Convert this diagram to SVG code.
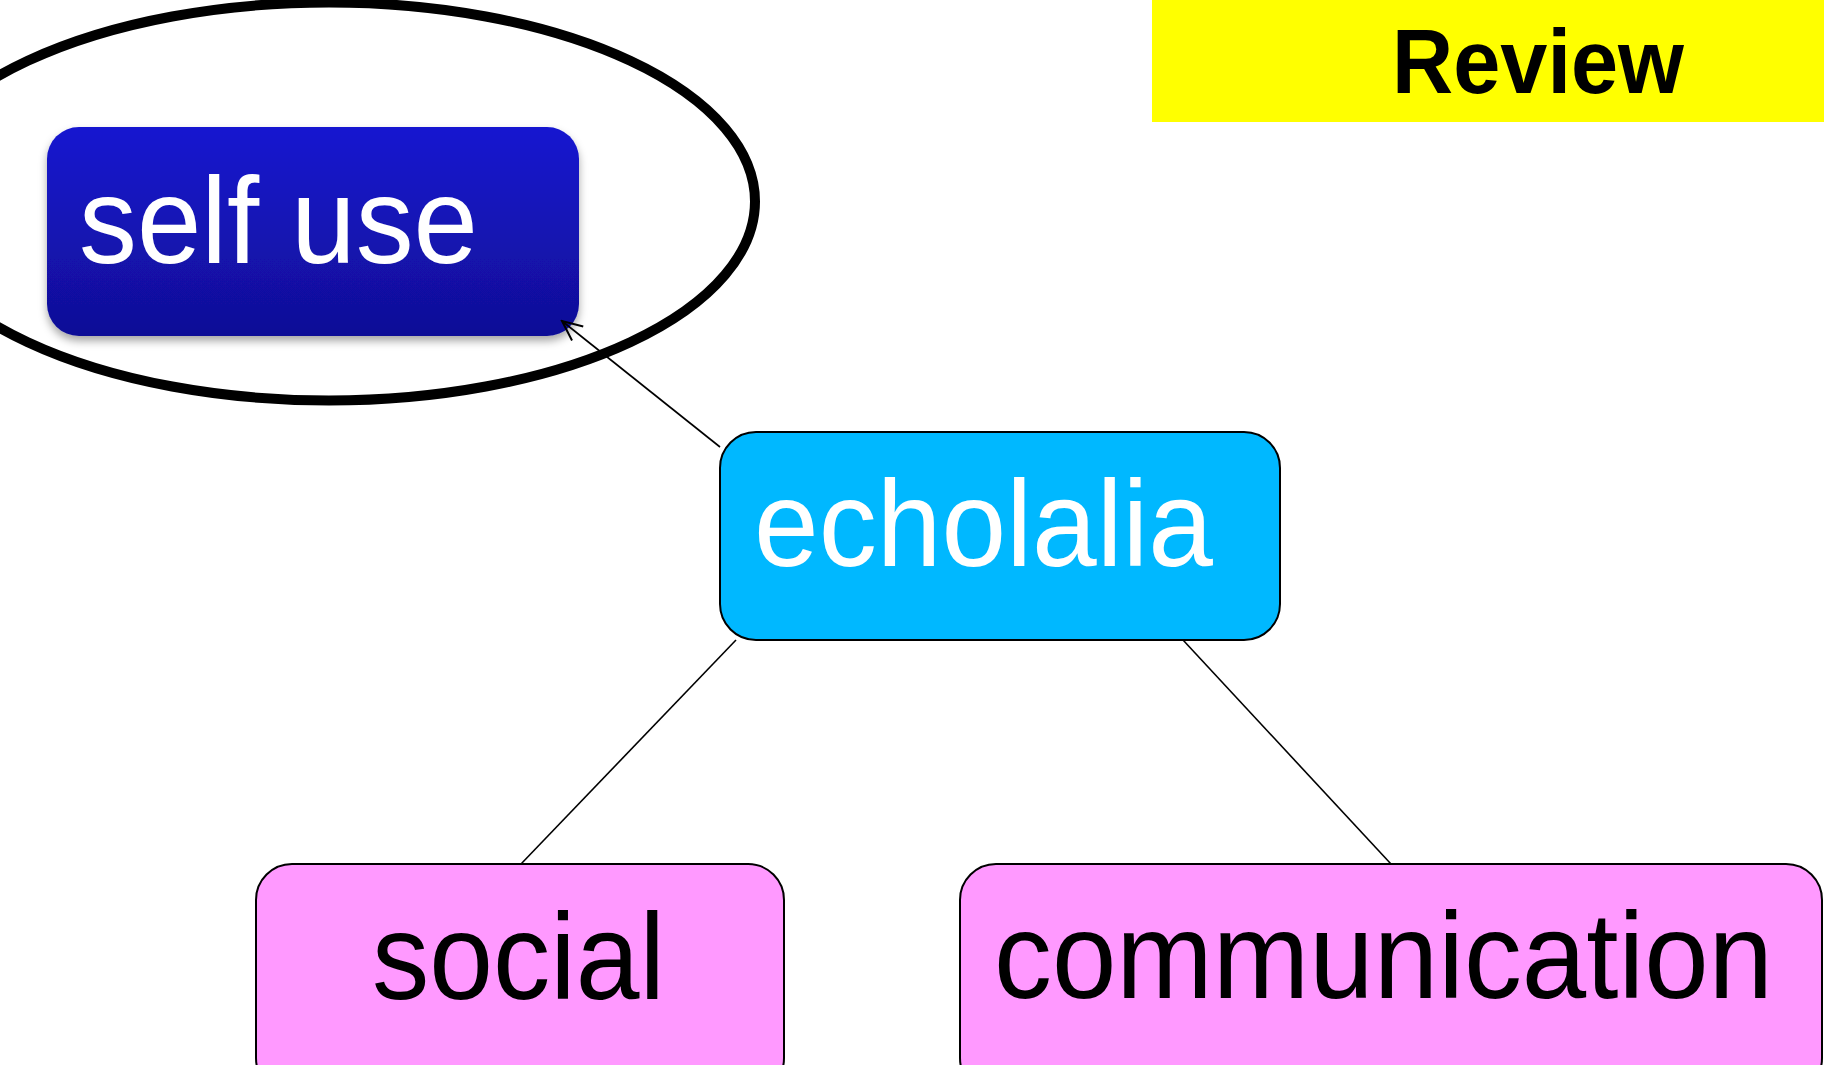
<svg xmlns="http://www.w3.org/2000/svg" width="1824" height="1065" viewBox="0 0 1824 1065">
<defs>
<linearGradient id="blueGrad" x1="0" y1="0" x2="0" y2="1">
<stop offset="0" stop-color="#1717D0"/>
<stop offset="1" stop-color="#100F96"/>
</linearGradient>
<filter id="shadow" x="-10%" y="-10%" width="120%" height="130%">
<feDropShadow dx="0" dy="5" stdDeviation="4" flood-color="#000" flood-opacity="0.35"/>
</filter>
<marker id="openArrow" viewBox="0 0 24 24" refX="22" refY="12" markerWidth="24" markerHeight="24" markerUnits="userSpaceOnUse" orient="auto">
<path d="M2,3 L22,12 L2,21" fill="none" stroke="#000" stroke-width="2"/>
</marker>
<style>
.lbl { font-family: "Liberation Sans", Arial, sans-serif; font-size: 123px; }
.pink { fill: #FF99FF; stroke: #000; stroke-width: 2; }
.conn { stroke: #000; stroke-width: 1.6; fill: none; }
</style>
</defs>
<rect width="1824" height="1065" fill="#FFFFFF"/>

<g id="review">
<rect x="1152" y="0" width="672" height="122" fill="#FFFF00"/>
<text x="1392" y="93" font-family="Liberation Sans, Arial, sans-serif" font-weight="bold" font-size="91" textLength="292" lengthAdjust="spacingAndGlyphs" fill="#000">Review</text>
</g>

<g id="self-use">
<rect x="47" y="127" width="532" height="209" rx="32" ry="32" fill="url(#blueGrad)" filter="url(#shadow)"/>
<text class="lbl" x="79" y="263" fill="#FFFFFF" textLength="399" lengthAdjust="spacingAndGlyphs">self use</text>
</g>

<g id="highlight-ellipse">
<ellipse cx="329" cy="201.5" rx="426" ry="199" fill="none" stroke="#000" stroke-width="10"/>
</g>

<g id="connectors">
<line class="conn" x1="720" y1="447" x2="562" y2="321" marker-end="url(#openArrow)"/>
<line class="conn" x1="736" y1="640" x2="521" y2="864"/>
<line class="conn" x1="1183" y1="640" x2="1391" y2="864"/>
</g>

<g id="echolalia">
<rect x="720" y="432" width="560" height="208" rx="36" ry="36" fill="#00B8FF" stroke="#000" stroke-width="2"/>
<text class="lbl" x="754" y="566" fill="#FFFFFF" textLength="459" lengthAdjust="spacingAndGlyphs">echolalia</text>
</g>

<g id="social">
<rect class="pink" x="256" y="864" width="528" height="230" rx="36" ry="36"/>
<text class="lbl" x="372" y="999" fill="#000" textLength="293" lengthAdjust="spacingAndGlyphs">social</text>
</g>

<g id="communication">
<rect class="pink" x="960" y="864" width="862" height="230" rx="36" ry="36"/>
<text class="lbl" x="994" y="998" fill="#000" textLength="779" lengthAdjust="spacingAndGlyphs">communication</text>
</g>
</svg>
